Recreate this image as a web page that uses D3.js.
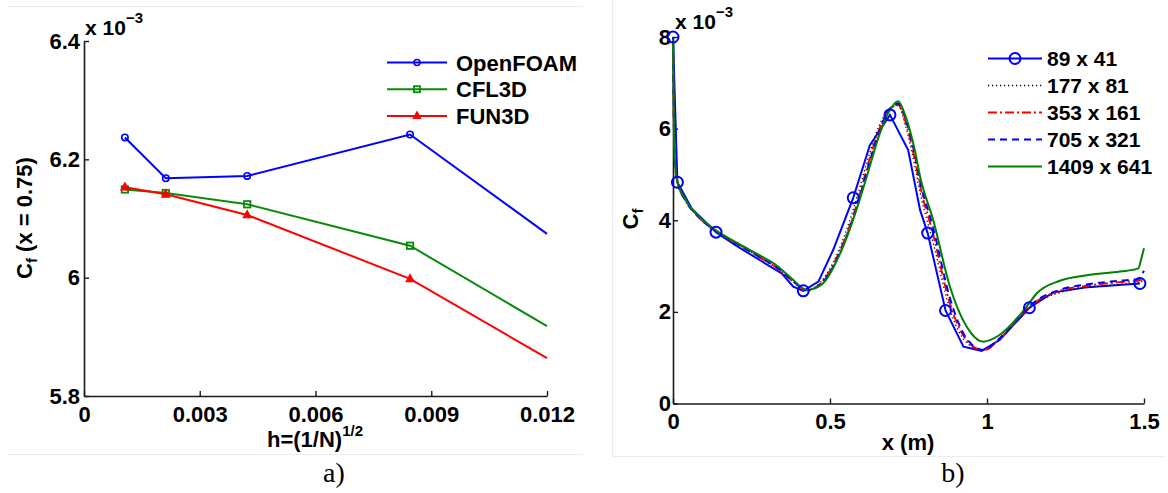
<!DOCTYPE html>
<html>
<head>
<meta charset="utf-8">
<script src="https://cdn.jsdelivr.net/npm/d3@7"></script>
<style>
  body { margin: 0; background: #fff; }
  svg { display: block; }
  text { font-family: "Liberation Sans", Arial, sans-serif; font-weight: bold; fill: #000; }
</style>
</head>
<body>
<div id="chart"></div>
<script>
// ---- panel a: grid convergence of Cf at x = 0.75 ----
var hValues = [0.00106, 0.00212, 0.00423, 0.00845, 0.012];
var openfoamCf = [6.237, 6.168, 6.172, 6.242, 6.074];
var cfl3dCf = [6.149, 6.143, 6.124, 6.054, 5.918];
var fun3dCf = [6.153, 6.141, 6.106, 5.998, 5.864];
var markedCount = 4; // last point has no marker in the figure
var aXTicks = [0, 0.003, 0.006, 0.009, 0.012];
var aXTickLabels = ["0", "0.003", "0.006", "0.009", "0.012"];
var aYTicks = [5.8, 6.0, 6.2, 6.4];
var aYTickLabels = ["5.8", "6", "6.2", "6.4"];
var aLegend = ["OpenFOAM", "CFL3D", "FUN3D"];

// ---- panel b: Cf along the wall for five grids (values x 1e-3) ----
var coarseX = [0, 0.014, 0.06, 0.137, 0.2, 0.293, 0.346, 0.383, 0.415, 0.463, 0.51, 0.574, 0.627, 0.691, 0.749, 0.787, 0.811, 0.868, 0.925, 0.983, 1.041, 1.135, 1.21, 1.32, 1.487];
var coarseCf = [8.0, 4.83, 4.25, 3.74, 3.45, 3.06, 2.84, 2.55, 2.46, 2.66, 3.35, 4.49, 5.64, 6.30, 5.53, 4.22, 3.72, 2.03, 1.24, 1.15, 1.39, 2.09, 2.42, 2.54, 2.62];
var coarseMarkX = [0, 0.014, 0.137, 0.415, 0.574, 0.691, 0.811, 0.868, 1.135, 1.487];
var coarseMarkCf = [8.0, 4.83, 3.74, 2.46, 4.49, 6.30, 3.72, 2.03, 2.09, 2.62];

var fineX = [0, 0.002, 0.006, 0.014, 0.04, 0.08, 0.137, 0.2, 0.25, 0.293, 0.325, 0.378, 0.426, 0.474, 0.537, 0.59, 0.617, 0.659, 0.686, 0.717, 0.739, 0.771, 0.787, 0.829, 0.882, 0.935, 0.988, 1.041, 1.126, 1.158, 1.232, 1.317, 1.424, 1.482, 1.491, 1.5];
var grid177 = [7.95, 6.5, 5.3, 4.84, 4.43, 4.08, 3.75, 3.5, 3.3, 3.12, 2.98, 2.68, 2.47, 2.68, 3.5, 4.6, 5.25, 6.1, 6.4, 6.5, 6.1, 5.15, 4.6, 3.5, 2.05, 1.33, 1.16, 1.4, 2.02, 2.2, 2.42, 2.53, 2.6, 2.64, 2.66, 2.68];
var grid353 = [7.95, 6.5, 5.3, 4.84, 4.43, 4.08, 3.76, 3.5, 3.3, 3.12, 2.99, 2.69, 2.47, 2.65, 3.42, 4.45, 5.12, 6.02, 6.4, 6.52, 6.18, 5.3, 4.75, 3.68, 2.18, 1.38, 1.16, 1.42, 2.05, 2.23, 2.46, 2.57, 2.65, 2.68, 2.7, 2.72];
var grid705 = [7.95, 6.5, 5.3, 4.84, 4.43, 4.08, 3.76, 3.5, 3.3, 3.13, 3.0, 2.7, 2.47, 2.63, 3.38, 4.4, 5.05, 5.98, 6.4, 6.55, 6.25, 5.4, 4.85, 3.82, 2.3, 1.42, 1.17, 1.43, 2.07, 2.25, 2.48, 2.6, 2.68, 2.72, 2.8, 2.9];
var grid1409 = [7.95, 6.5, 5.3, 4.85, 4.45, 4.1, 3.78, 3.52, 3.33, 3.17, 3.04, 2.73, 2.48, 2.6, 3.35, 4.35, 4.95, 5.9, 6.35, 6.6, 6.3, 5.5, 4.95, 4.0, 2.55, 1.68, 1.35, 1.5, 2.11, 2.4, 2.68, 2.8, 2.88, 2.95, 3.15, 3.39];
var bXTicks = [0, 0.5, 1, 1.5];
var bXTickLabels = ["0", "0.5", "1", "1.5"];
var bYTicks = [0, 2, 4, 6, 8];
var bYTickLabels = ["0", "2", "4", "6", "8"];
var bLegend = ["89 x 41", "177 x 81", "353 x 161", "705 x 321", "1409 x 641"];

var svg = d3.select("#chart").append("svg")
  .attr("width", 1168)
  .attr("height", 493);

// faint panel frames
svg.append("path").attr("d", "M7,6.5H583M7,454.5H583").attr("stroke", "#ececec").attr("fill", "none");
svg.append("path").attr("d", "M612.5,0V456.5H1165").attr("stroke", "#ececec").attr("fill", "none");

function drawAxes(g, x, y, xt, xl, yt, yl, yPad) {
  var y0 = y.range()[0];
  var x0 = x.range()[0];
  var ax = g.append("g")
    .attr("transform", "translate(0," + y0 + ")")
    .call(d3.axisBottom(x).tickValues(xt).tickFormat(function (d, i) { return xl[i]; })
      .tickSizeInner(-5).tickSizeOuter(0).tickPadding(10));
  var ay = g.append("g")
    .attr("transform", "translate(" + x0 + ",0)")
    .call(d3.axisLeft(y).tickValues(yt).tickFormat(function (d, i) { return yl[i]; })
      .tickSizeInner(-5).tickSizeOuter(0).tickPadding(yPad));
  [ax, ay].forEach(function (a) {
    a.select(".domain").attr("stroke", "#1a1a1a").attr("stroke-width", 1.6);
    a.selectAll(".tick line").attr("stroke", "#1a1a1a").attr("stroke-width", 1.4);
    a.selectAll(".tick text").attr("font-size", 22).attr("fill", "#000")
      .style("font-family", "'Liberation Sans', Arial, sans-serif").style("font-weight", "bold");
  });
}

// ================= panel a =================
var xa = d3.scaleLinear().domain([0, 0.012]).range([84, 547]);
var ya = d3.scaleLinear().domain([5.8, 6.4]).range([396, 41]);
var pa = svg.append("g");
drawAxes(pa, xa, ya, aXTicks, aXTickLabels, aYTicks, aYTickLabels, 4);

var aSeries = [
  { name: aLegend[0], vals: openfoamCf, color: "#0000ff", mark: "circle" },
  { name: aLegend[1], vals: cfl3dCf, color: "#0a8a0a", mark: "square" },
  { name: aLegend[2], vals: fun3dCf, color: "#ff0000", mark: "triangle" }
];

var lineA = d3.line().x(function (d) { return xa(d[0]); }).y(function (d) { return ya(d[1]); });

function drawMarker(g, type, cx, cy, color, size) {
  if (type === "circle") {
    g.append("circle").attr("cx", cx).attr("cy", cy).attr("r", size)
      .attr("fill", "none").attr("stroke", color).attr("stroke-width", 1.6);
  } else if (type === "square") {
    g.append("rect").attr("x", cx - size).attr("y", cy - size)
      .attr("width", size * 2).attr("height", size * 2)
      .attr("fill", "none").attr("stroke", color).attr("stroke-width", 1.8);
  } else {
    g.append("path")
      .attr("d", "M" + cx + "," + (cy - size - 1) + "L" + (cx + size + 0.5) + "," + (cy + size - 0.5) + "L" + (cx - size - 0.5) + "," + (cy + size - 0.5) + "Z")
      .attr("fill", color).attr("stroke", color).attr("stroke-width", 1.4);
  }
}

aSeries.forEach(function (s) {
  var pts = hValues.map(function (h, i) { return [h, s.vals[i]]; });
  pa.append("path").datum(pts).attr("d", lineA)
    .attr("fill", "none").attr("stroke", s.color).attr("stroke-width", 2);
  pts.slice(0, markedCount).forEach(function (p) {
    drawMarker(pa, s.mark, xa(p[0]), ya(p[1]), s.color, 3.2);
  });
});

// legend a
aSeries.forEach(function (s, i) {
  var ly = 62.5 + i * 26.7;
  pa.append("line").attr("x1", 387).attr("x2", 447).attr("y1", ly).attr("y2", ly)
    .attr("stroke", s.color).attr("stroke-width", 2);
  drawMarker(pa, s.mark, 417, ly, s.color, 3);
  pa.append("text").attr("x", 456).attr("y", ly + 8).attr("font-size", 22).text(s.name);
});

// exponent and labels
var ea = pa.append("text").attr("x", 85).attr("y", 35).attr("font-size", 21);
ea.append("tspan").text("x 10");
ea.append("tspan").attr("dy", -12).attr("font-size", 15).text("\u22123");

var yla = pa.append("text").attr("transform", "translate(32,218) rotate(-90)")
  .attr("text-anchor", "middle").attr("font-size", 22);
yla.append("tspan").text("C");
yla.append("tspan").attr("dy", 5).attr("font-size", 15).text("f");
yla.append("tspan").attr("dy", -5).text(" (x = 0.75)");

var xla = pa.append("text").attr("x", 267).attr("y", 447).attr("font-size", 22);
xla.append("tspan").text("h=(1/N)");
xla.append("tspan").attr("dy", -11).attr("font-size", 15).text("1/2");

svg.append("text").attr("x", 334).attr("y", 482).attr("text-anchor", "middle")
  .style("font-family", "'Liberation Serif', 'DejaVu Serif', serif").style("font-weight", "normal")
  .attr("font-size", 28).text("a)");

// ================= panel b =================
var xb = d3.scaleLinear().domain([0, 1.5]).range([673, 1144]);
var yb = d3.scaleLinear().domain([0, 8]).range([403.5, 37]);
var pb = svg.append("g");
drawAxes(pb, xb, yb, bXTicks, bXTickLabels, bYTicks, bYTickLabels, 2);

var lineB = d3.line().curve(d3.curveMonotoneX)
  .x(function (d) { return xb(d[0]); }).y(function (d) { return yb(d[1]); });
var lineBLinear = d3.line()
  .x(function (d) { return xb(d[0]); }).y(function (d) { return yb(d[1]); });

var bSeries = [
  { vals: grid177, color: "#000000", width: 1.3, dash: "1.2,2.8" },
  { vals: grid353, color: "#ff0000", width: 2, dash: "9,3,2,3" },
  { vals: grid705, color: "#0000ff", width: 2, dash: "7,5" },
  { vals: grid1409, color: "#008000", width: 2, dash: null }
];

// coarse grid (solid blue with circles)
var coarsePts = coarseX.map(function (x, i) { return [x, coarseCf[i]]; });
pb.append("path").datum(coarsePts).attr("d", lineBLinear)
  .attr("fill", "none").attr("stroke", "#0000ff").attr("stroke-width", 2);

bSeries.forEach(function (s) {
  var pts = fineX.map(function (x, i) { return [x, s.vals[i]]; });
  pb.append("path").datum(pts).attr("d", lineB)
    .attr("fill", "none").attr("stroke", s.color).attr("stroke-width", s.width)
    .attr("stroke-dasharray", s.dash);
});

pb.selectAll("circle.mk").data(coarseMarkX).enter().append("circle")
  .attr("class", "mk")
  .attr("cx", function (d) { return xb(d); })
  .attr("cy", function (d, i) { return yb(coarseMarkCf[i]); })
  .attr("r", 5.5).attr("fill", "none").attr("stroke", "#0000ff").attr("stroke-width", 2);

// legend b
var bLegStyles = [
  { color: "#0000ff", width: 2, dash: null, marker: true },
  { color: "#000000", width: 1.3, dash: "1.2,2.8", marker: false },
  { color: "#ff0000", width: 2, dash: "9,3,2,3", marker: false },
  { color: "#0000ff", width: 2, dash: "7,5", marker: false },
  { color: "#008000", width: 2, dash: null, marker: false }
];
bLegend.forEach(function (name, i) {
  var ly = 58.5 + i * 27;
  var st = bLegStyles[i];
  pb.append("line").attr("x1", 988).attr("x2", 1042).attr("y1", ly).attr("y2", ly)
    .attr("stroke", st.color).attr("stroke-width", st.width).attr("stroke-dasharray", st.dash);
  if (st.marker) {
    pb.append("circle").attr("cx", 1015).attr("cy", ly).attr("r", 5.5)
      .attr("fill", "none").attr("stroke", st.color).attr("stroke-width", 2);
  }
  pb.append("text").attr("x", 1047).attr("y", ly + 7.5).attr("font-size", 21).text(name);
});

var eb = pb.append("text").attr("x", 675).attr("y", 29).attr("font-size", 21);
eb.append("tspan").text("x 10");
eb.append("tspan").attr("dy", -12).attr("font-size", 15).text("\u22123");

var ylb = pb.append("text").attr("transform", "translate(638,219) rotate(-90)")
  .attr("text-anchor", "middle").attr("font-size", 22);
ylb.append("tspan").text("C");
ylb.append("tspan").attr("dy", 5).attr("font-size", 15).text("f");

pb.append("text").attr("x", 908).attr("y", 450).attr("text-anchor", "middle")
  .attr("font-size", 22).text("x (m)");

svg.append("text").attr("x", 953).attr("y", 482).attr("text-anchor", "middle")
  .style("font-family", "'Liberation Serif', 'DejaVu Serif', serif").style("font-weight", "normal")
  .attr("font-size", 28).text("b)");
</script>
</body>
</html>
